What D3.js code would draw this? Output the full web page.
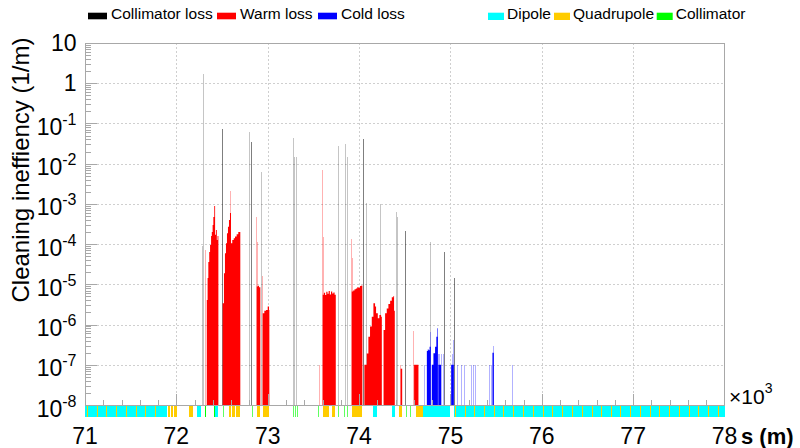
<!DOCTYPE html>
<html>
<head>
<meta charset="utf-8">
<script src="https://cdn.jsdelivr.net/npm/d3@7"></script>
<style>
  body { margin: 0; background: #fff; }
  svg { display: block; font-family: "Liberation Sans", Arial, sans-serif; }
</style>
</head>
<body>
<svg id="chart" width="800" height="448"></svg>
<script>
// axis ticks
var xTicks = [71, 72, 73, 74, 75, 76, 77, 78];   // x 10^3 m
var yTickExps = [1, 0, -1, -2, -3, -4, -5, -6, -7, -8];

// collimator losses: s (m), inefficiency (1/m), bin length (m)
var collS = [72284, 72295, 72503, 72799, 72820, 72930, 73280, 73293, 73310, 73773, 73850, 73869,
  74047, 74080, 74238, 74413, 74424, 74512, 74781, 74934, 75044];
var collV = [9.0e-5, 1.7, 0.072, 0.062, 0.034, 6.3e-3, 0.043, 0.0145, 0.0145, 0.027, 0.031, 0.0145,
  0.042, 1.04e-3, 1.0e-3, 6.4e-4, 4.7e-4, 2.1e-4, 1.13e-4, 6.3e-5, 1.4e-5];
var collW = [2.5, 2.5, 5.5, 2.5, 5.5, 2.5, 2.5, 2.5, 2.5, 2.5, 2.5, 2.5,
  5.5, 2.5, 2.5, 2.5, 2.5, 5.5, 2.5, 5.5, 5.5];

// warm losses, dense stretches: [s, value] (each value holds until next s)
var warmA = [[72333, 4.1e-6], [72342, 1.44e-5], [72350, 3.6e-5], [72360, 6.4e-5], [72369, 9.5e-5],
  [72380, 1.6e-4], [72388, 2.0e-4], [72397, 3.0e-4], [72405, 4.75e-4], [72415, 8.9e-4],
  [72424, 1.7e-4], [72433, 2.25e-4], [72443, 1.27e-4], [72451, 1.6e-4], [72460, 1.6e-4]];
var warmB = [[72507, 3.4e-6], [72521, 1.89e-5], [72532, 5.9e-5], [72543, 1.05e-4], [72554, 1.87e-4],
  [72565, 2.7e-4], [72576, 4.0e-4], [72587, 5.9e-4], [72598, 1.05e-4], [72612, 1.27e-4],
  [72628, 1.4e-4], [72642, 1.54e-4], [72660, 1.76e-4], [72678, 2.0e-4], [72693, 2.0e-4], [72700, 2.0e-4]];
var warmC = [[72880, 8.8e-6], [72892, 9.2e-6], [72905, 8.5e-6], [72919, 8.5e-6]];
var warmD = [[72945, 1.9e-6], [72963, 2.2e-6], [72981, 2.3e-6], [73000, 2.8e-6], [73014, 2.3e-6], [73018, 2.3e-6]];
var warmE = [[73602, 5.5e-6], [73615, 6.2e-6], [73628, 5.4e-6], [73641, 6.5e-6], [73654, 5.8e-6],
  [73667, 6.8e-6], [73680, 5.6e-6], [73693, 6.6e-6], [73706, 5.9e-6], [73719, 6.3e-6],
  [73732, 5.5e-6], [73745, 5.5e-6]];
var warmF = [[73920, 6.6e-6], [73935, 7.0e-6], [73950, 7.6e-6], [73965, 7.9e-6], [73980, 8.5e-6],
  [73995, 8.2e-6], [74010, 9.1e-6], [74025, 9.4e-6], [74036, 9.4e-6]];
var warmG = [[74058, 1e-7], [74084, 1.9e-7], [74102, 5.0e-7], [74120, 8.9e-7], [74139, 1.57e-6],
  [74157, 3.4e-6], [74175, 2.8e-6], [74186, 1.9e-6], [74205, 1.43e-6], [74222, 1.73e-6],
  [74241, 1.57e-6], [74249, 1.57e-6]];
var warmH = [[74268, 7.3e-7], [74285, 1.9e-6], [74303, 2.5e-6], [74321, 3.25e-6], [74340, 3.9e-6],
  [74358, 4.8e-6], [74376, 5.1e-6], [74383, 2.2e-6], [74391, 2.2e-6]];
var warmI = [[74455, 8e-8], [74472, 8e-8]];
var warmJ = [[74602, 1e-7], [74650, 1e-7]];

// single thin warm bins
var warmSpikeS = [72324, 72590, 72875, 72886, 72938, 73565, 73598, 73606, 73912, 73927, 74449, 74595];
var warmSpikeV = [7.2e-5, 2.1e-3, 4.8e-4, 1.15e-4, 1.6e-5, 1e-7, 7.0e-3, 1.54e-4, 1.32e-4, 4.45e-5, 1e-7, 6.9e-7];
var warmSpikeW = [3.3, 3.3, 3.3, 3.3, 3.3, 3.3, 3.3, 3.3, 3.3, 3.3, 3.3, 3.3];

// cold losses
var coldA = [[74742, 2.2e-7], [74752, 2.4e-7], [74762, 2.3e-7], [74772, 2.8e-7], [74785, 2.8e-7]];
var coldB = [[74796, 1e-7], [74814, 1.93e-7], [74832, 2.8e-7], [74846, 5.0e-7], [74857, 8.1e-7], [74863, 8.1e-7]];
var coldC = [[74868, 1e-7], [74897, 1e-7]];
var coldD = [[75008, 1e-7], [75037, 1e-7]];
var coldE = [[75460, 2.0e-7], [75475, 2.0e-7]];
var coldSpikeS = [74715, 74778, 74870, 74885, 74906, 74926, 75019, 75033, 75081, 75125, 75150,
  75234, 75254, 75271, 75427, 75445, 75468, 75676];
var coldSpikeV = [1e-7, 6.7e-7, 1.9e-7, 1.9e-7, 1.9e-7, 1.9e-7, 1.9e-7, 4.1e-7, 1e-7, 1e-7, 1e-7,
  1e-7, 1e-7, 1e-7, 1e-7, 1e-7, 3.0e-7, 1e-7];
var coldSpikeW = [3.3, 3.3, 3.3, 3.3, 3.3, 3.3, 3.3, 3.3, 3.3, 3.3, 3.3, 3.3, 3.3, 3.3, 3.3, 3.3, 3.3, 3.3];

// machine layout: [start, end] in m
var dipoleRuns = [[71000, 71894], [72226, 72270], [72420, 72456], [74155, 74198], [74363, 74396],
  [74701, 75000], [75035, 78000]];
var quadRuns = [[71020, 71028], [71127, 71135], [71234, 71242], [71341, 71349], [71448, 71456],
  [71555, 71563], [71662, 71670], [71769, 71777], [71910, 71930], [71945, 71965], [71978, 72008],
  [72138, 72184], [72579, 72600], [72612, 72640], [72652, 72700], [72883, 72916], [72949, 73015],
  [73606, 73672], [73705, 73738], [73924, 74034], [74440, 74472], [74624, 74701],
  [75051, 75059], [75161, 75169], [75263, 75271], [75372, 75380], [75479, 75487], [75580, 75588],
  [75690, 75698], [75793, 75801], [75902, 75910], [76008, 76016], [76117, 76125], [76224, 76232],
  [76330, 76338], [76439, 76447], [76549, 76557], [76647, 76655], [76757, 76765], [76859, 76867],
  [76968, 76976], [77078, 77086], [77180, 77188], [77286, 77294], [77392, 77400], [77497, 77505],
  [77607, 77615], [77710, 77718], [77819, 77827], [77929, 77937]];
var collimatorS = [72314, 72410, 72513, 72828, 73278, 73300, 73322, 73551, 73771, 73837, 73870, 74515, 74559];
var collimatorL = [12, 10, 3, 3, 3, 3, 3, 3, 3, 3, 3, 3, 3];

var legendLoss = ['Collimator loss', 'Warm loss', 'Cold loss'];
var legendLayout = ['Dipole', 'Quadrupole', 'Collimator'];

var svg = d3.select('#chart');
var x = d3.scaleLinear().domain([71000, 78000]).range([85, 724.5]);
var y = d3.scaleLog().domain([1e-8, 10]).range([405, 43]);
var bandTop = 405, bandBottom = 417;

// grid
var grid = svg.append('g').attr('class', 'grid')
  .attr('stroke', '#cfcfcf').attr('stroke-dasharray', '2,2').attr('shape-rendering', 'crispEdges');
yTickExps.slice(1, -1).forEach(function(k) {
  grid.append('line').attr('x1', x(71000)).attr('x2', x(78000))
    .attr('y1', Math.round(y(Math.pow(10, k))) + 0.5).attr('y2', Math.round(y(Math.pow(10, k))) + 0.5);
});
xTicks.slice(1, -1).forEach(function(t) {
  grid.append('line').attr('y1', y(10)).attr('y2', y(1e-8))
    .attr('x1', Math.round(x(t * 1000)) + 0.5).attr('x2', Math.round(x(t * 1000)) + 0.5);
});

// thin bins: 1px column, opacity from the bin width in pixels
function thinBars(sArr, vArr, wArr, color) {
  svg.append('g').attr('shape-rendering', 'crispEdges')
    .selectAll('rect')
    .data(sArr.map(function(s, i) { return {s: s, v: vArr[i], w: wArr[i]}; }))
    .enter()
    .append('rect')
    .attr('x', function(d) { return Math.floor(x(d.s)); })
    .attr('width', 1)
    .attr('y', function(d) { return y(d.v); })
    .attr('height', function(d) { return y(1e-8) - y(d.v); })
    .attr('fill', color)
    .attr('fill-opacity', function(d) { return Math.min(1, x(d.s + d.w) - x(d.s)); });
}

var stepArea = d3.area()
  .x(function(d) { return x(d[0]); })
  .y0(y(1e-8))
  .y1(function(d) { return y(d[1]); })
  .curve(d3.curveStepAfter);

function blocks(list, color) {
  svg.append('g').selectAll('path')
    .data(list)
    .enter()
    .append('path')
    .attr('d', stepArea)
    .attr('fill', color);
}

thinBars(collS, collV, collW, '#000');
blocks([warmA, warmB, warmC, warmD, warmE, warmF, warmG, warmH, warmI, warmJ], '#ff0000');
thinBars(warmSpikeS, warmSpikeV, warmSpikeW, '#ff0000');
blocks([coldA, coldB, coldC, coldD, coldE], '#0000ff');
thinBars(coldSpikeS, coldSpikeV, coldSpikeW, '#0000ff');

// layout band under the axis
var band = svg.append('g').attr('shape-rendering', 'crispEdges');
function runs(list, color) {
  band.selectAll(null)
    .data(list)
    .enter()
    .append('rect')
    .attr('x', function(d) { return x(d[0]); })
    .attr('width', function(d) { return Math.max(1, x(d[1]) - x(d[0])); })
    .attr('y', bandTop)
    .attr('height', bandBottom - bandTop)
    .attr('fill', color)
    .attr('fill-opacity', function(d) { return Math.min(1, 0.35 + (x(d[1]) - x(d[0]))); });
}
runs(dipoleRuns, '#00ffff');
runs(quadRuns, '#ffcc00');
runs(collimatorS.map(function(s, i) { return [s, s + collimatorL[i]]; }), '#00ff00');

// frame and ticks
var axis = svg.append('g').attr('stroke', '#a8a8a8').attr('fill', 'none').attr('shape-rendering', 'crispEdges');
axis.append('rect').attr('x', x(71000)).attr('y', y(10)).attr('width', x(78000) - x(71000)).attr('height', y(1e-8) - y(10));
yTickExps.forEach(function(k) {
  var yy = Math.round(y(Math.pow(10, k))) + 0.5;
  axis.append('line').attr('x1', x(71000)).attr('x2', x(71000) + 12).attr('y1', yy).attr('y2', yy);
  if (k > -8) {
    for (var m = 2; m <= 9; m++) {
      var ym = Math.round(y(m * Math.pow(10, k - 1))) + 0.5;
      axis.append('line').attr('x1', x(71000)).attr('x2', x(71000) + 6).attr('y1', ym).attr('y2', ym);
    }
  }
});
for (var s = 71200; s < 78000; s += 200) {
  var xx = Math.round(x(s)) + 0.5;
  var len = (s % 1000 === 0) ? 11 : 5;
  axis.append('line').attr('x1', xx).attr('x2', xx).attr('y1', y(1e-8)).attr('y2', y(1e-8) - len);
}

// tick labels
var labels = svg.append('g').attr('fill', '#000');
yTickExps.forEach(function(k) {
  var yy = y(Math.pow(10, k));
  var t = labels.append('text').attr('x', 76.5).attr('text-anchor', 'end').style('font-size', '23px');
  if (k === 1) {
    t.attr('y', yy + 8).text('10');
  } else if (k === 0) {
    t.attr('y', yy + 8).text('1');
  } else {
    t.attr('y', yy + 11.5);
    t.append('tspan').text('10');
    t.append('tspan').attr('dy', -10).style('font-size', '16px').text('-' + Math.abs(k));
  }
});
xTicks.forEach(function(t) {
  labels.append('text').attr('x', x(t * 1000)).attr('y', 443.5)
    .attr('text-anchor', 'middle').style('font-size', '23px').text(t);
});
var mult = labels.append('text').attr('x', 729).attr('y', 404).style('font-size', '21px');
mult.append('tspan').text('\u00d710');
mult.append('tspan').attr('dy', -11).style('font-size', '14px').text('3');
labels.append('text').attr('x', 741).attr('y', 443.5)
  .style('font-size', '22px').style('font-weight', 'bold').text('s (m)');
labels.append('text')
  .attr('transform', 'translate(29,170) rotate(-90)')
  .attr('text-anchor', 'middle').style('font-size', '24px')
  .text('Cleaning ineffiency (1/m)');

// legend
var legend = svg.append('g').style('font-size', '15.5px');
var lossColors = ['#000000', '#ff0000', '#0000ff'];
var lossBoxX = [88, 217, 318];
legendLoss.forEach(function(name, i) {
  legend.append('rect').attr('x', lossBoxX[i]).attr('y', 12.7).attr('width', 19).attr('height', 6.6).attr('fill', lossColors[i]);
  legend.append('text').attr('x', lossBoxX[i] + 23).attr('y', 19).text(name);
});
var layoutColors = ['#00ffff', '#ffcc00', '#00ff00'];
var layoutBoxX = [488, 554, 656.7];
legendLayout.forEach(function(name, i) {
  legend.append('rect').attr('x', layoutBoxX[i]).attr('y', 12.7).attr('width', 16).attr('height', 7.3).attr('fill', layoutColors[i]);
  legend.append('text').attr('x', layoutBoxX[i] + 19).attr('y', 19).text(name);
});
</script>
</body>
</html>
